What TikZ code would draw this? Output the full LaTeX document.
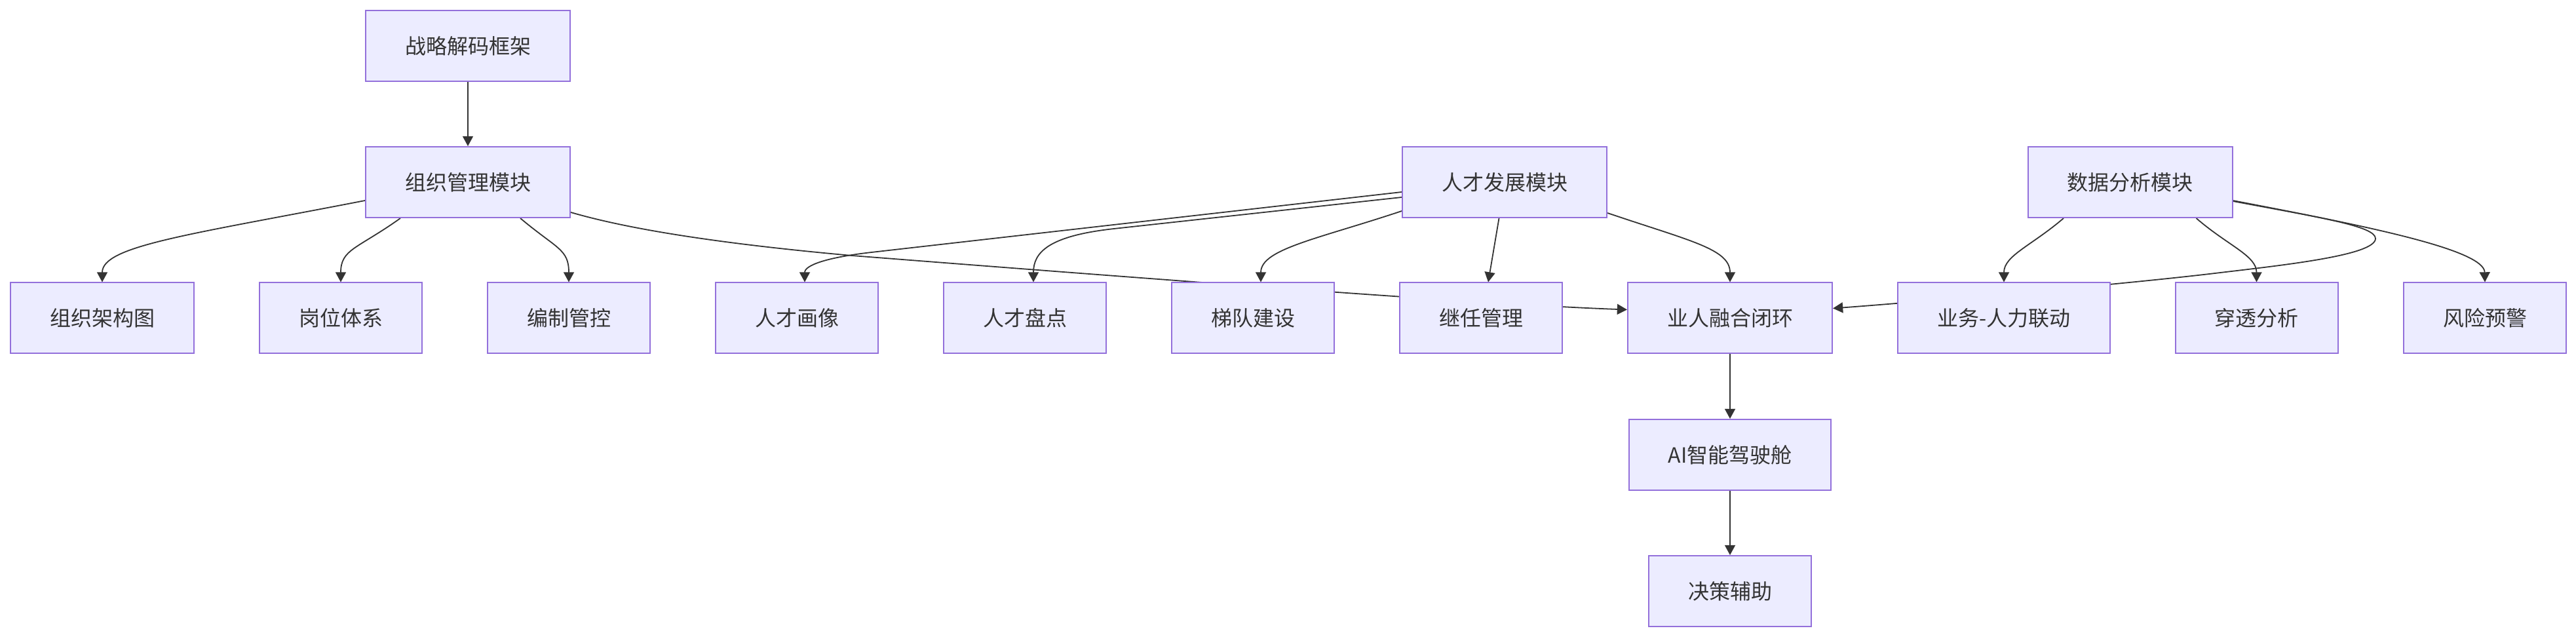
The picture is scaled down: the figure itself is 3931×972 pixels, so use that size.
\documentclass[tikz,border=0pt]{standalone}
\usepackage{fontspec}
\newfontfamily\cjk{Noto Sans CJK SC}
\usetikzlibrary{arrows.meta,calc}
\definecolor{boxfill}{HTML}{ECECFF}
\definecolor{boxline}{HTML}{9370DB}
\definecolor{ink}{HTML}{333333}
\pgfdeclarelayer{edges}
\pgfsetlayers{edges,main}
\tikzset{
  box/.style={draw=boxline, fill=boxfill, line width=1pt, minimum height=54pt,
    inner sep=0pt, text=ink, font=\cjk\fontsize{16pt}{16pt}\selectfont},
  wide/.style={box, minimum width=156pt},
  narrow/.style={box, minimum width=124pt},
  arr/.style={draw=ink, line width=0.9pt, -{Triangle[length=7.6pt,width=8pt]}}
}
\begin{document}
\begin{tikzpicture}[x=0.5pt,y=-0.5pt]
\useasboundingbox (0,0) rectangle (3931,972);
% nodes
\node[wide] (s0) at (714,70) {战略解码框架};
\node[wide] (org) at (714,278) {组织管理模块};
\node[wide] (tal) at (2296,278) {人才发展模块};
\node[wide] (dat) at (3250.5,278) {数据分析模块};
\node[box, minimum width=140pt] (n1) at (156,485.5) {组织架构图};
\node[narrow] (n2) at (520,485.5) {岗位体系};
\node[narrow] (n3) at (868,485.5) {编制管控};
\node[narrow] (n4) at (1216,485.5) {人才画像};
\node[narrow] (n5) at (1564,485.5) {人才盘点};
\node[narrow] (n6) at (1912,485.5) {梯队建设};
\node[narrow] (n7) at (2260,485.5) {继任管理};
\node[wide] (loop) at (2640,485.5) {业人融合闭环};
\node[box, minimum width=162pt] (n9) at (3058,485.5) {业务-人力联动};
\node[narrow] (n10) at (3443.5,485.5) {穿透分析};
\node[narrow] (n11) at (3792,485.5) {风险预警};
\node[box, minimum width=154pt] (ai) at (2640,694) {AI智能驾驶舱};
\node[narrow] (dec) at (2640,902) {决策辅助};
% edges
\begin{pgfonlayer}{edges}
\draw[arr] (s0.south) -- (org.north);
\draw[arr] ($(org.west)+(0,28)$) .. controls (290,358) and (156,375) .. (n1.north);
\draw[arr] ($(org.south)+(-103,0)$) .. controls (545,380) and (520,380) .. (n2.north);
\draw[arr] ($(org.south)+(80,0)$) .. controls (850,380) and (868,380) .. (n3.north);
\draw[arr] ($(org.east)+(0,46)$) .. controls (960,350) and (1100,372) .. (1300,390)
  .. controls (1900,437) and (2300,466) .. ($(loop.west)+(0,-13)$);
\draw[arr] ($(tal.west)+(0,15)$) -- (1330,385) .. controls (1260,393) and (1228,405) .. ($(n4.north)+(12,0)$);
\draw[arr] ($(tal.west)+(0,23)$) -- (1700,349) .. controls (1600,360) and (1577,385) .. ($(n5.north)+(13,0)$);
\draw[arr] ($(tal.west)+(0,44)$) .. controls (2010,365) and (1924,380) .. ($(n6.north)+(12,0)$);
\draw[arr] ($(tal.south)+(-8.5,0)$) -- ($(n7.north)+(11,0)$);
\draw[arr] ($(tal.east)+(0,47)$) .. controls (2580,368) and (2640,380) .. (loop.north);
\draw[arr] ($(dat.south)+(-101.5,0)$) .. controls (3100,375) and (3058,390) .. (n9.north);
\draw[arr] ($(dat.south)+(101,0)$) .. controls (3400,375) and (3443.5,390) .. (n10.north);
\draw[arr] ($(dat.east)+(0,29)$) .. controls (3540,332) and (3625,345) .. (3625,364)
  .. controls (3625,390) and (3480,405) .. (3380,417)
  .. controls (3230,435) and (2900,463) .. ($(loop.east)+(0,-15)$);
\draw[arr] ($(dat.east)+(0,28)$) .. controls (3600,343) and (3791,380) .. (n11.north);
\draw[arr] (loop.south) -- (ai.north);
\draw[arr] (ai.south) -- (dec.north);
\end{pgfonlayer}
\end{tikzpicture}
\end{document}
